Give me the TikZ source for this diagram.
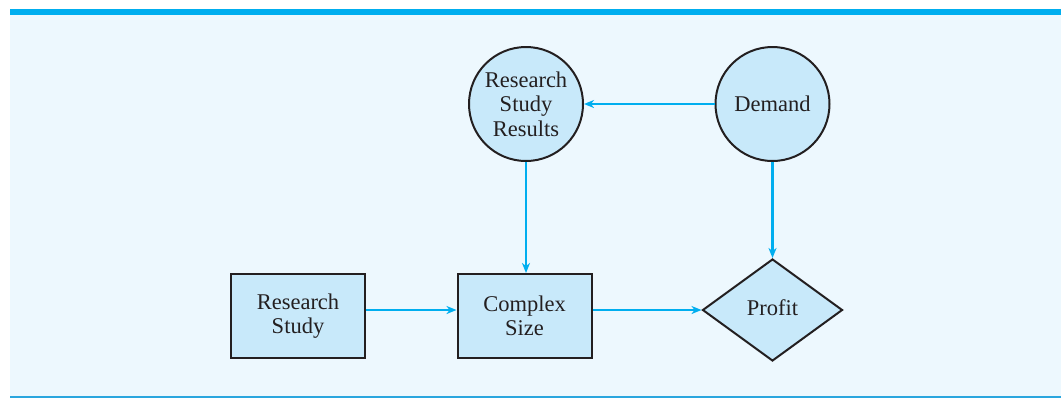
\documentclass[tikz,border=0pt]{standalone}
\usepackage{fontspec}
\setmainfont{Liberation Serif}
\usetikzlibrary{shapes.geometric,arrows.meta}
\definecolor{barblue}{HTML}{00AEEF}
\definecolor{rulecol}{HTML}{2AA6DE}
\definecolor{panel}{HTML}{EDF8FE}
\definecolor{shapefill}{HTML}{C8E9FA}
\definecolor{edgecol}{HTML}{231F20}
\begin{document}
\begin{tikzpicture}[x=1bp,y=-1bp,
  label text/.style={font=\fontsize{22.5bp}{24.5bp}\selectfont, text=edgecol, align=center},
  shapebase/.style={label text, draw=edgecol, fill=shapefill, line width=2bp, inner sep=0pt},
  boxnode/.style={shapebase, rectangle, minimum width=134bp, minimum height=84bp},
  roundnode/.style={shapebase, circle, minimum size=114bp},
  decision/.style={shapebase, diamond, aspect=1.37, minimum width=140bp, minimum height=102bp},
  flow/.style={draw=barblue, line width=2.2bp, -{Stealth[length=10bp,width=8bp,inset=3bp]}}]
  \useasboundingbox (0,0) rectangle (1061,398);
  % page background, panel and rules
  \fill[white] (0,0) rectangle (1061,398);
  \fill[panel] (10,15) rectangle (1061,396);
  \fill[barblue] (10,9) rectangle (1061,15);
  \fill[rulecol] (10,396) rectangle (1061,397.6);

  % nodes
  \node[roundnode] (results) at (526,104) {Research\\Study\\Results};
  \node[roundnode] (demand) at (772.5,104) {Demand};
  \node[boxnode] (study) at (298,316) {Research\\Study};
  \node[boxnode] (complex) at (524.5,316) {Complex\\Size};
  \node[decision] (profit) at (772.5,310) {\raisebox{4bp}{Profit}};

  % connectors
  \draw[flow] (demand.west) -- (results.east);
  \draw[flow] (results.south) -- (results.south |- complex.north);
  \draw[flow] (demand.south) -- (profit.north);
  \draw[flow] (study.east |- 0,310) -- (complex.west |- 0,310);
  \draw[flow] (complex.east |- 0,310) -- (profit.west);
\end{tikzpicture}
\end{document}
